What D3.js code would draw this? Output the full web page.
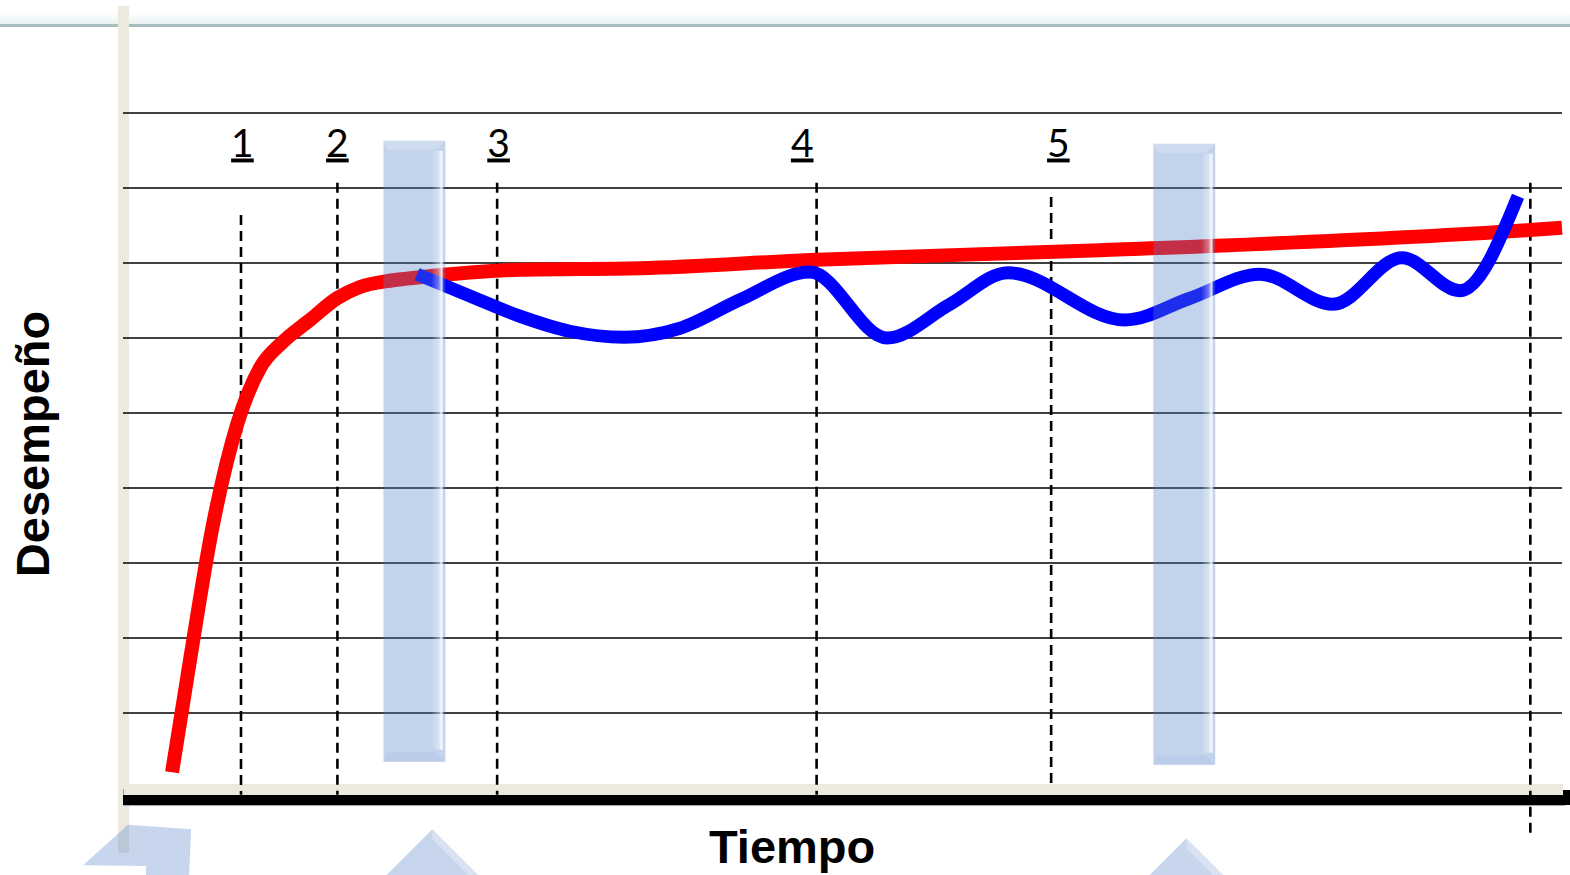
<!DOCTYPE html>
<html><head><meta charset="utf-8">
<script src="https://cdn.jsdelivr.net/npm/d3@7"></script>
<style>body{margin:0;background:#fff}svg{display:block}</style>
</head><body><svg id="c" width="1570" height="875"></svg>
<script>
// ---- data ----
const gridValues = [1, 2, 3, 4, 5, 6, 7, 8, 9];
const phaseLabels = ["1", "2", "3", "4", "5"];
const phaseLabelTimes = [8.3, 14.9, 26.1, 47.2, 65.0];
const phaseLabelLevel = 8.42;
const dashTimes = [8.2, 14.9, 26.0, 48.2, 64.5, 97.8];
const dashTop = [7.64, 8.07, 8.07, 8.07, 7.88, 8.07];
const dashBottom = [-0.09, -0.09, -0.09, -0.09, 0.04, -0.63];
const redTime  = [3.41, 4.66, 6.18, 7.92, 9.52, 11.12, 12.99, 14.87, 16.47, 18.76, 20.64, 27.59, 35.93, 47.74, 67.89, 97.78, 100];
const redValue = [0.21, 1.71, 3.44, 4.84, 5.60, 5.95, 6.24, 6.53, 6.68, 6.77, 6.81, 6.91, 6.93, 7.04, 7.17, 7.44, 7.47];
const blueTime  = [20.43, 24.11, 27.59, 31.06, 34.82, 38.71, 42.88, 47.74, 53.09, 57.47, 61.50, 69.63, 74.15, 79.01, 84.09, 88.88, 92.91, 96.94];
const blueValue = [6.85, 6.56, 6.29, 6.09, 6.01, 6.13, 6.51, 6.88, 6.00, 6.45, 6.87, 6.24, 6.53, 6.85, 6.45, 7.07, 6.63, 7.89];
const barStart = [18.1, 71.6];
const barEnd = [22.4, 75.9];
const barTop = [8.63, 8.59];
const barBottom = [0.35, 0.31];
const xTitle = "Tiempo";
const xTitleTime = 46.5;
const yTitle = "Desempeño";
// decorative arrow tips below the axis (time, level)
const bentArrow = [[-2.78, -1.03], [0.35, -0.49], [4.73, -0.55], [4.59, -1.2], [1.60, -1.2], [1.60, -1.04]];
const arrowApexTime = [21.5, 73.9];
const arrowApexLevel = [-0.55, -0.67];

// ---- scales ----
const W = 1570, H = 875;
const x = d3.scaleLinear().domain([0, 100]).range([123, 1562]);
const y = d3.scaleLinear().domain([0, 9]).range([788, 113]);
const svg = d3.select("#c");
const defs = svg.append("defs");

// top frame line
const tg = defs.append("linearGradient").attr("id", "topg").attr("x1", 0).attr("x2", 0).attr("y1", 0).attr("y2", 1);
tg.append("stop").attr("offset", "0%").attr("stop-color", "#ffffff");
tg.append("stop").attr("offset", "100%").attr("stop-color", "#e8f2f2");
svg.append("rect").attr("x", 0).attr("y", 12).attr("width", W).attr("height", 12).attr("fill", "url(#topg)");
svg.append("rect").attr("x", 0).attr("y", 24).attr("width", W).attr("height", 3).attr("fill", "#a8bebe");

// beige frame
svg.append("rect").attr("x", 118).attr("y", 6).attr("width", 11).attr("height", 847).attr("fill", "#ece9de");
svg.append("rect").attr("x", 129).attr("y", y(0) - 4).attr("width", x(100) + 1 - 129).attr("height", 11).attr("fill", "#ece9de");

// gridlines
svg.append("g").selectAll("line").data(gridValues).join("line")
  .attr("x1", x(0)).attr("x2", x(100))
  .attr("y1", d => y(d)).attr("y2", d => y(d))
  .attr("stroke", "#000").attr("stroke-width", 1.6);

// dashed phase lines
svg.append("g").selectAll("line").data(dashTimes).join("line")
  .attr("x1", d => x(d)).attr("x2", d => x(d))
  .attr("y1", (d, i) => y(dashTop[i])).attr("y2", (d, i) => y(dashBottom[i]))
  .attr("stroke", "#000").attr("stroke-width", 2.6).attr("stroke-dasharray", "10,6");

// axis bar
svg.append("rect").attr("x", x(0)).attr("y", y(0) + 7).attr("width", x(100) + 3 - x(0)).attr("height", 10).attr("fill", "#000");
svg.append("rect").attr("x", x(100) + 1).attr("y", y(0) + 2).attr("width", 8).attr("height", 15).attr("fill", "#000");
svg.append("line").attr("x1", x(0)).attr("x2", x(100) + 3).attr("y1", y(0) + 17.5).attr("y2", y(0) + 17.5).attr("stroke", "#aaa").attr("stroke-width", 1);
svg.append("line").attr("x1", x(0) + 0.5).attr("x2", x(0) + 0.5).attr("y1", y(0) + 1).attr("y2", y(0) + 7).attr("stroke", "#999").attr("stroke-width", 1);

// lines
const line = d3.line().x(d => x(d[0])).y(d => y(d[1])).curve(d3.curveMonotoneX);
svg.append("path").datum(redTime.map((t, i) => [t, redValue[i]]))
  .attr("d", line).attr("fill", "none").attr("stroke", "#ff0000").attr("stroke-width", 14);
svg.append("path").datum(blueTime.map((t, i) => [t, blueValue[i]]))
  .attr("d", line).attr("fill", "none").attr("stroke", "#0000ff").attr("stroke-width", 13);

// bars (translucent bevelled)
const hg = defs.append("linearGradient").attr("id", "hl").attr("x1", 0).attr("x2", 1).attr("y1", 0).attr("y2", 0);
hg.append("stop").attr("offset", "0%").attr("stop-color", "#fff").attr("stop-opacity", 0);
hg.append("stop").attr("offset", "60%").attr("stop-color", "#fff").attr("stop-opacity", 0.35);
hg.append("stop").attr("offset", "85%").attr("stop-color", "#fff").attr("stop-opacity", 0.85);
hg.append("stop").attr("offset", "100%").attr("stop-color", "#fff").attr("stop-opacity", 0.3);

const bars = svg.append("g").selectAll("g").data(barStart).join("g");
bars.append("rect")
  .attr("x", d => x(d)).attr("y", (d, i) => y(barTop[i]))
  .attr("width", (d, i) => x(barEnd[i]) - x(d)).attr("height", (d, i) => y(barBottom[i]) - y(barTop[i]))
  .attr("fill", "rgb(84,130,200)").attr("fill-opacity", 0.35);
bars.append("rect")
  .attr("x", (d, i) => x(barEnd[i]) - 14).attr("y", (d, i) => y(barTop[i]) + 10)
  .attr("width", 12).attr("height", (d, i) => y(barBottom[i]) - y(barTop[i]) - 22)
  .attr("fill", "url(#hl)");
bars.append("path")
  .attr("d", (d, i) => {
    const x0 = x(d), x1 = x(barEnd[i]), t = y(barTop[i]);
    return `M${x0},${t}L${x1},${t}L${x1 - 9},${t + 9}L${x0 + 4},${t + 9}Z`;
  })
  .attr("fill", "#fff").attr("fill-opacity", 0.2);
bars.append("path")
  .attr("d", (d, i) => {
    const x0 = x(d), x1 = x(barEnd[i]), b = y(barBottom[i]);
    return `M${x0 + 4},${b - 9}L${x1 - 9},${b - 9}L${x1},${b}L${x0},${b}Z`;
  })
  .attr("fill", "rgb(84,130,200)").attr("fill-opacity", 0.08);

// decorative arrow tips
svg.append("path")
  .attr("d", "M" + bentArrow.map(p => [x(p[0]), y(p[1])].join(",")).join("L") + "Z")
  .attr("fill", "rgb(84,130,200)").attr("fill-opacity", 0.33);
svg.append("g").selectAll("path").data(arrowApexTime).join("path")
  .attr("d", (d, i) => {
    const ax = x(d), ay = y(arrowApexLevel[i]), h = H + 2 - ay;
    return `M${ax},${ay}L${ax + h},${ay + h}L${ax - h},${ay + h}Z`;
  })
  .attr("fill", "rgb(84,130,200)").attr("fill-opacity", 0.33);
svg.append("g").selectAll("path").data(arrowApexTime).join("path")
  .attr("d", (d, i) => {
    const ax = x(d), ay = y(arrowApexLevel[i]), h = H + 2 - ay;
    return `M${ax},${ay}L${ax + h},${ay + h}L${ax + h - 10},${ay + h}L${ax},${ay + 10}Z`;
  })
  .attr("fill", "#fff").attr("fill-opacity", 0.3);

// phase labels
svg.append("g").selectAll("text").data(phaseLabels).join("text")
  .attr("x", (d, i) => x(phaseLabelTimes[i])).attr("y", y(phaseLabelLevel))
  .attr("text-anchor", "middle")
  .style("font-family", "Lato, 'Open Sans', sans-serif").style("font-size", "39px")
  .style("text-decoration", "underline")
  .attr("fill", "#000").text(d => d);

// titles
svg.append("text").attr("x", x(xTitleTime)).attr("y", 863)
  .attr("text-anchor", "middle")
  .style("font-family", "'Liberation Sans', Arial, sans-serif").style("font-weight", "bold").style("font-size", "47px")
  .attr("fill", "#000").text(xTitle);
svg.append("text").attr("transform", "translate(49,444) rotate(-90)")
  .attr("text-anchor", "middle")
  .style("font-family", "'Liberation Sans', Arial, sans-serif").style("font-weight", "bold").style("font-size", "47px")
  .attr("fill", "#000").text(yTitle);
</script></body></html>
